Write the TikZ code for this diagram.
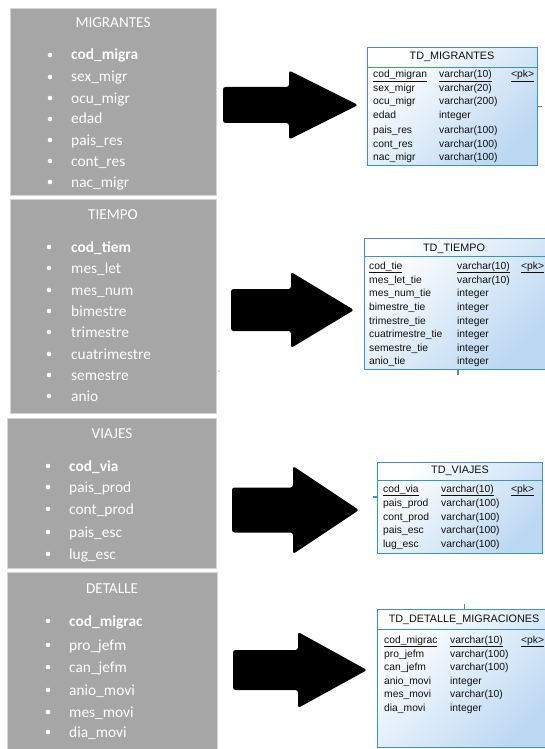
\documentclass[tikz,border=0pt]{standalone}
\usepackage{fontspec}
\setmainfont{Carlito}
\newfontfamily\tabfont{Liberation Sans}
\usetikzlibrary{calc}

\definecolor{boxgray}{HTML}{A6A6A6}
\definecolor{boxedge}{HTML}{D4D4D4}
\definecolor{tabline}{HTML}{3D8FD8}
\definecolor{tabfill}{HTML}{BCD8F2}
\definecolor{tabtext}{HTML}{0F0F0F}

\tikzset{
  grp/.style={fill=boxgray, draw=boxedge, line width=1pt, inner sep=0pt, anchor=north west},
  grptitle/.style={text=white, font=\fontsize{15.2}{17}\selectfont, anchor=base, inner sep=0pt},
  grpitem/.style={text=white, font=\fontsize{15.4}{17}\selectfont, anchor=base west, inner sep=0pt},
  grpdot/.style={fill=white, circle, inner sep=0pt, minimum size=4.6pt},
  tab/.style={draw=tabline, line width=0.8pt, shading=axis, top color=white, bottom color=tabfill,
    shading angle=45, inner sep=0pt, anchor=north west},
  tabtitle/.style={font=\tabfont\fontsize{10.8}{12}\selectfont, text=tabtext, anchor=base, inner sep=0pt},
  tabcell/.style={font=\tabfont\fontsize{10.3}{11}\selectfont, text=tabtext, anchor=base west, inner sep=0pt},
  tabrule/.style={draw=tabline, line width=0.8pt},
  blockarrow/.style={fill=black, rounded corners=2.5pt},
  stub/.style={draw=tabline, line width=1.2pt},
}

% block arrow: shaft start, head base, tip, centre y, half shaft height, half head height
\newcommand\blkarrow[6]{%
  \fill[blockarrow] (#1,#4-#5) -- (#2,#4-#5) -- (#2,#4-#6) -- (#3,#4)
    -- (#2,#4+#6) -- (#2,#4+#5) -- (#1,#4+#5) -- cycle;}

\begin{document}
\begin{tikzpicture}[x=1pt,y=-1pt]
\useasboundingbox (0,0) rectangle (545,749);
\fill[white] (0,0) rectangle (545,749);

% ---------- source groups ----------
\node[grp, minimum width=206pt, minimum height=187pt] (gm) at (10,8) {};
\node[grptitle] (gmt) at (113,27.5) {MIGRANTES};
\node[grpdot] (gmd1) at (50,55) {};
\node[grpitem] (gmi1) at (71,60) {\bfseries cod\_migra};
\foreach \t/\y [count=\i from 2] in {sex\_migr/77,ocu\_migr/98,edad/119,pais\_res/140,cont\_res/161,nac\_migr/182}{
  \node[grpdot] (gmd\i) at (50,\y) {};
  \node[grpitem] (gmi\i) at (71,\y+5) {\t};
}

\node[grp, minimum width=206pt, minimum height=214pt] (gt) at (10,199) {};
\node[grptitle] (gtt) at (113,219.5) {TIEMPO};
\node[grpdot] (gtd1) at (49,247) {};
\node[grpitem] (gti1) at (71,252) {\bfseries cod\_tiem};
\foreach \t/\y [count=\i from 2] in {mes\_let/268,mes\_num/290,bimestre/311,trimestre/332,cuatrimestre/354,semestre/375,anio/396}{
  \node[grpdot] (gtd\i) at (49,\y) {};
  \node[grpitem] (gti\i) at (71,\y+5) {\t};
}

\node[grp, minimum width=209pt, minimum height=150pt] (gv) at (7,418) {};
\node[grptitle] (gvt) at (112,438.5) {VIAJES};
\node[grpdot] (gvd1) at (48,466) {};
\node[grpitem] (gvi1) at (69,471) {\bfseries cod\_via};
\foreach \t/\y [count=\i from 2] in {pais\_prod/487,cont\_prod/509,pais\_esc/532,lug\_esc/554}{
  \node[grpdot] (gvd\i) at (48,\y) {};
  \node[grpitem] (gvi\i) at (69,\y+5) {\t};
}

\node[grp, minimum width=210pt, minimum height=182pt] (gd) at (7,572) {};
\node[grptitle] (gdt) at (112,593.5) {DETALLE};
\node[grpdot] (gdd1) at (48,621) {};
\node[grpitem] (gdi1) at (69,626) {\bfseries cod\_migrac};
\foreach \t/\y [count=\i from 2] in {pro\_jefm/645,can\_jefm/667,anio\_movi/690,mes\_movi/712,dia\_movi/732}{
  \node[grpdot] (gdd\i) at (48,\y) {};
  \node[grpitem] (gdi\i) at (69,\y+5) {\t};
}
\fill[gray!60] (219,371) circle (0.8pt);

% ---------- block arrows ----------
\blkarrow{223}{289}{358}{105}{18}{34.5}
\blkarrow{231}{291}{354}{310}{21}{38}
\blkarrow{232}{293}{359}{510}{22.5}{44}
\blkarrow{233}{298}{367}{670}{20}{38}

% ---------- TD_MIGRANTES ----------
\node[tab, minimum width=170pt, minimum height=118pt] (t1) at (367,47) {};
\draw[tabrule] ($(t1.north west)+(0,20)$) -- ($(t1.north east)+(0,20)$);
\node[tabtitle] (t1h) at (452,59.5) {TD\_MIGRANTES};
\node[tabcell] (t1n1) at (373,78) {\underline{cod\_migran}};
\node[tabcell] (t1c1) at (439,78) {\underline{varchar(10)}};
\node[tabcell] (t1k1) at (511,78) {\underline{<pk>}};
\foreach \n/\c/\y [count=\i from 2] in {sex\_migr/varchar(20)/92,ocu\_migr/varchar(200)/105,edad/integer/119,
    pais\_res/varchar(100)/133,cont\_res/varchar(100)/147,nac\_migr/varchar(100)/160}{
  \node[tabcell] (t1n\i) at (373,\y) {\n};
  \node[tabcell] (t1c\i) at (439,\y) {\c};
}
\draw[stub] (t1.east) -- ++(4,0);

% ---------- TD_TIEMPO ----------
\node[tab, minimum width=181pt, minimum height=131pt] (t2) at (364,238) {};
\draw[tabrule] ($(t2.north west)+(0,18)$) -- ($(t2.north east)+(0,18)$);
\node[tabtitle] (t2h) at (454,251.5) {TD\_TIEMPO};
\node[tabcell] (t2n1) at (369,269) {\underline{cod\_tie}};
\node[tabcell] (t2c1) at (457,269) {\underline{varchar(10)}};
\node[tabcell] (t2k1) at (521,269) {\underline{<pk>}};
\foreach \n/\c/\y [count=\i from 2] in {mes\_let\_tie/varchar(10)/283,mes\_num\_tie/integer/296,bimestre\_tie/integer/310,
    trimestre\_tie/integer/324,cuatrimestre\_tie/integer/337,semestre\_tie/integer/351,anio\_tie/integer/364}{
  \node[tabcell] (t2n\i) at (369,\y) {\n};
  \node[tabcell] (t2c\i) at (457,\y) {\c};
}
\draw[stub] ($(t2.south)+(3,0)$) -- ++(0,5);

% ---------- TD_VIAJES ----------
\node[tab, minimum width=165pt, minimum height=91pt] (t3) at (377,462) {};
\draw[tabrule] ($(t3.north west)+(0,18)$) -- ($(t3.north east)+(0,18)$);
\node[tabtitle] (t3h) at (460,473.5) {TD\_VIAJES};
\node[tabcell] (t3n1) at (383,492) {\underline{cod\_via}};
\node[tabcell] (t3c1) at (441,492) {\underline{varchar(10)}};
\node[tabcell] (t3k1) at (511,492) {\underline{<pk>}};
\foreach \n/\c/\y [count=\i from 2] in {pais\_prod/varchar(100)/506,cont\_prod/varchar(100)/520,
    pais\_esc/varchar(100)/533,lug\_esc/varchar(100)/547}{
  \node[tabcell] (t3n\i) at (383,\y) {\n};
  \node[tabcell] (t3c\i) at (441,\y) {\c};
}
\draw[stub] ($(t3.north west)+(0,35)$) -- ++(-4,0);

% ---------- TD_DETALLE_MIGRACIONES ----------
\node[tab, minimum width=176pt, minimum height=138pt] (t4) at (377,609) {};
\draw[tabrule] ($(t4.north west)+(0,20)$) -- ($(t4.north east)+(0,20)$);
\node[tabtitle] (t4h) at (464,622.5) {TD\_DETALLE\_MIGRACIONES};
\node[tabcell] (t4n1) at (384,643) {\underline{cod\_migrac}};
\node[tabcell] (t4c1) at (450,643) {\underline{varchar(10)}};
\node[tabcell] (t4k1) at (521,643) {\underline{<pk>}};
\foreach \n/\c/\y [count=\i from 2] in {pro\_jefm/varchar(100)/657,can\_jefm/varchar(100)/670,
    anio\_movi/integer/684,mes\_movi/varchar(10)/697,dia\_movi/integer/711.5}{
  \node[tabcell] (t4n\i) at (384,\y) {\n};
  \node[tabcell] (t4c\i) at (450,\y) {\c};
}
\draw[stub] ($(t4.north)+(-1,0)$) -- ++(0,-5);
\end{tikzpicture}
\end{document}
